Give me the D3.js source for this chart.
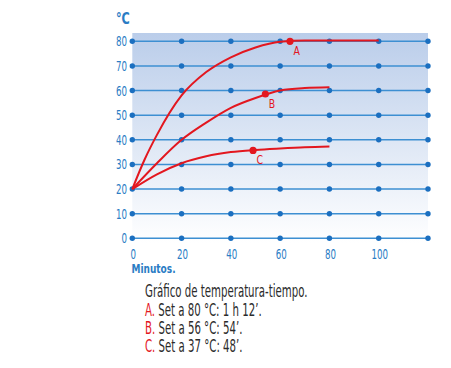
<!DOCTYPE html>
<html><head><meta charset="utf-8">
<script src="https://cdn.jsdelivr.net/npm/d3@7"></script>
<style>
body{margin:0;background:#fff;}
text{font-family:"DejaVu Sans",sans-serif;}
</style></head>
<body><svg id="c" width="451" height="368"></svg>
<script>
const xTicks = [0, 20, 40, 60, 80, 100];
const xDots = [0, 20, 40, 60, 80, 100, 120];
const yTicks = [0, 10, 20, 30, 40, 50, 60, 70, 80];
const curveA = [[0,20],[5,32],[10,42],[20,58],[30,67.5],[40,73.5],[50,77.5],[60,79.8],[70,80.3],[80,80.3],[100,80.3]];
const curveB = [[0,20],[10,30.5],[20,40],[30,47],[40,53],[50,57],[60,60],[70,61],[80,61.3]];
const curveC = [[0,20],[10,26],[20,30.5],[30,33.3],[40,35],[50,35.9],[60,36.5],[70,37],[80,37.3]];
const markers = [{name:"A", t:64, v:80}, {name:"B", t:54, v:58.6}, {name:"C", t:49, v:35.7}];
const captionTitle = "Gráfico de temperatura-tiempo.";
const captionLines = [["A.", " Set a 80 °C: 1 h 12’."], ["B.", " Set a 56 °C: 54’."], ["C.", " Set a 37 °C: 48’."]];

const svg = d3.select("#c");
const x = d3.scaleLinear().domain([0, 120]).range([132.3, 428]);
const y = d3.scaleLinear().domain([0, 80]).range([238.3, 41.3]);
const blue = "#1b6fc0", lineBlue = "#3d8fd2", red = "#e3171f", tickBlue = "#2a7cc4";
const place = (px, py, sx) => `translate(${px},${py}) scale(${sx},1)`;

const defs = svg.append("defs");
const g = defs.append("linearGradient").attr("id","bg").attr("x1",0).attr("y1",0).attr("x2",0).attr("y2",1);
g.append("stop").attr("offset","0%").attr("stop-color","#bacdea");
g.append("stop").attr("offset","100%").attr("stop-color","#ffffff");
svg.append("rect").attr("x", x(0)).attr("y", 33).attr("width", x(120)-x(0)).attr("height", 210).attr("fill","url(#bg)");

svg.append("g").selectAll("line").data(yTicks).join("line")
  .attr("x1", x(0)).attr("x2", x(120)).attr("y1", d=>y(d)).attr("y2", d=>y(d))
  .attr("stroke", lineBlue).attr("stroke-width", 1.6);

const pts = [];
yTicks.forEach(v => xDots.forEach(t => pts.push([t, v])));
svg.append("g").selectAll("circle").data(pts).join("circle")
  .attr("cx", d=>x(d[0])).attr("cy", d=>y(d[1])).attr("r", 2.7).attr("fill", blue);

svg.append("g").selectAll("text").data(yTicks).join("text")
  .attr("transform", d=>place(127, y(d)+5, 0.62)).attr("text-anchor","end")
  .attr("font-size", 14).attr("fill", tickBlue).text(d=>d);
svg.append("text").attr("transform", place(116, 24, 0.75)).attr("font-size", 15).attr("font-weight","bold").attr("fill", tickBlue).text("°C");

svg.append("g").selectAll("text").data(xTicks).join("text")
  .attr("transform", d=>place(x(d)+1, 259, 0.62)).attr("text-anchor","middle")
  .attr("font-size", 14).attr("fill", tickBlue).text(d=>d);
svg.append("text").attr("transform", place(131.5, 273, 0.72)).attr("font-size", 12.5).attr("font-weight","bold").attr("fill", tickBlue).text("Minutos.");

const line = d3.line().x(d=>x(d[0])).y(d=>y(d[1])).curve(d3.curveMonotoneX);
[curveA, curveB, curveC].forEach(c => {
  svg.append("path").attr("d", line(c)).attr("fill","none").attr("stroke", red).attr("stroke-width", 2);
});
svg.append("g").selectAll("circle").data(markers).join("circle")
  .attr("cx", d=>x(d.t)).attr("cy", d=>y(d.v)).attr("r", 3.6).attr("fill", red);
svg.append("g").selectAll("text").data(markers).join("text")
  .attr("transform", d=>place(x(d.t)+3.5, y(d.v)+14, 0.72))
  .attr("font-size", 13).attr("fill", red).text(d=>d.name);

svg.append("text").attr("transform", place(145, 297, 0.6)).attr("font-size", 17).attr("fill", "#2b2b2b").text(captionTitle);
captionLines.forEach((l, i) => {
  const t = svg.append("text").attr("transform", place(145, 316 + i*18.2, 0.6)).attr("font-size", 17).attr("fill", "#2b2b2b");
  t.append("tspan").attr("fill", red).text(l[0]);
  t.append("tspan").text(l[1]);
});
</script></body></html>
